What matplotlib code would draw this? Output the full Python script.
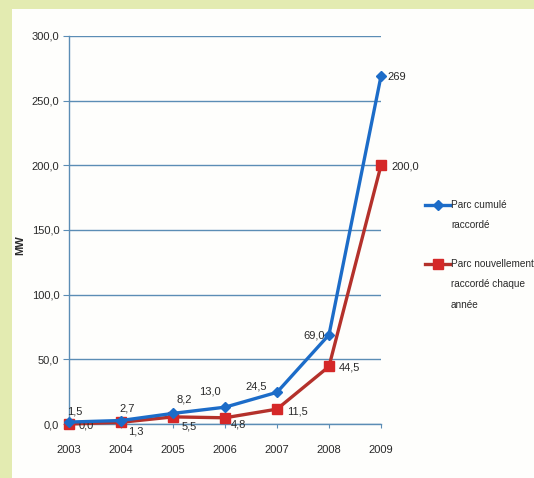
import matplotlib
matplotlib.use("Agg")
import matplotlib.pyplot as plt
from matplotlib.patches import Rectangle
from matplotlib.lines import Line2D

plt.rcParams['font.family'] = ['Liberation Sans', 'DejaVu Sans']

years = ['2003', '2004', '2005', '2006', '2007', '2008', '2009']
cumul = [1.5, 2.7, 8.2, 13.0, 24.5, 69.0, 269]
nouveau = [0.0, 1.3, 5.5, 4.8, 11.5, 44.5, 200.0]
cumul_labels = ['1,5', '2,7', '8,2', '13,0', '24,5', '69,0', '269']
nouveau_labels = ['0,0', '1,3', '5,5', '4,8', '11,5', '44,5', '200,0']
yticks = [0, 50, 100, 150, 200, 250, 300]
ytick_labels = ['0,0', '50,0', '100,0', '150,0', '200,0', '250,0', '300,0']
legend_names = ['Parc cumulé\nraccordé', 'Parc nouvellement\nraccordé chaque\nannée']

# label offsets in pixels (dx, dy)
cumul_off = [(6, 11), (6, 12), (11, 14), (-15, 16), (-21, 6), (-15, -1), (16, -1)]
nouveau_off = [(17, -2), (15, -9), (16, -10), (13, -7), (20, -2), (20, -1), (24, -1)]

blue = '#1c6cc8'
red_line = '#b4312b'
red_mark = '#d52828'
grid_col = '#5b8db5'
txt_col = '#2a2a2a'

W, H = 534, 478
fig = plt.figure(figsize=(W / 100, H / 100), dpi=100, facecolor='#e3ebb1')
fig.patches.append(Rectangle((12 / W, 0), 1, 1 - 9 / H, transform=fig.transFigure,
                             facecolor='#fefefc', edgecolor='none', zorder=-10))

ax = fig.add_axes([69 / W, 54 / H, 312 / W, 388 / H])
ax.set_zorder(5)
ax.set_facecolor('none')
x = list(range(len(years)))

ax.plot(x, nouveau, color=red_line, lw=2.4, marker='s', ms=7.5,
        mfc=red_mark, mec=red_mark, clip_on=False, zorder=3)
ax.plot(x, cumul, color=blue, lw=2.4, marker='D', ms=5,
        mfc=blue, mec=blue, clip_on=False, zorder=4)

for i in x:
    ax.annotate(cumul_labels[i], (i, cumul[i]), xytext=cumul_off[i],
                textcoords='offset pixels', ha='center', va='center',
                fontsize=8, color=txt_col)
    ax.annotate(nouveau_labels[i], (i, nouveau[i]), xytext=nouveau_off[i],
                textcoords='offset pixels', ha='center', va='center',
                fontsize=8, color=txt_col)

ax.set_xlim(0, 6)
ax.set_ylim(0, 300)
ax.set_xticks(x)
ax.set_xticklabels(years, fontsize=8, color=txt_col)
ax.set_yticks(yticks)
ax.set_yticklabels(ytick_labels, fontsize=8, color=txt_col)
ax.tick_params(axis='x', length=3, color=grid_col, pad=12)
ax.tick_params(axis='y', length=4, color=grid_col, pad=3)

ax.grid(axis='y', color=grid_col, lw=1)
ax.set_axisbelow(True)
for s in ['top', 'right']:
    ax.spines[s].set_visible(False)
for s in ['left', 'bottom']:
    ax.spines[s].set_color(grid_col)
    ax.spines[s].set_linewidth(1)

ax.set_ylabel('MW', fontsize=8, fontweight='bold', color=txt_col)
ax.yaxis.set_label_coords(-0.14, 0.46)

# legend drawn by hand: handle aligned with the first line of text
legend_items = [(blue, 'D', 5, 205), (red_mark, 's', 7.5, 264)]
for (col, mk, ms, ypx), name in zip(legend_items, legend_names):
    yf = 1 - ypx / H
    lc = blue if col == blue else red_line
    fig.add_artist(Line2D([425 / W, 450 / W], [yf, yf], color=lc, lw=2.4,
                          transform=fig.transFigure))
    fig.add_artist(Line2D([438 / W], [yf], marker=mk, ms=ms, color=col,
                          transform=fig.transFigure))
    fig.text(451 / W, 1 - (ypx - 5) / H, name, fontsize=7.2, color=txt_col,
             ha='left', va='top', linespacing=2.3)

fig.savefig('out.png', dpi=100, facecolor=fig.get_facecolor())
